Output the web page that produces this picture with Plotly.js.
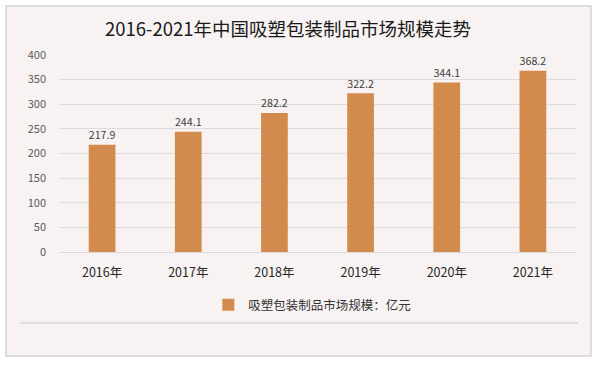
<!DOCTYPE html>
<html><head><meta charset="utf-8">
<script src="https://cdn.plot.ly/plotly-3.0.1.min.js"></script>
<style>html,body{margin:0;padding:0;background:#fff}#chart{width:600px;height:366px}</style>
</head><body><div id="chart"></div>
<script>
var categories = ['2016年','2017年','2018年','2019年','2020年','2021年'];
var values = [217.9, 244.1, 282.2, 322.2, 344.1, 368.2];
var seriesName = '吸塑包装制品市场规模：亿元';
var tickVals = [0,50,100,150,200,250,300,350,400];

var font = '"Noto Sans CJK SC", "Microsoft YaHei", sans-serif';
var trace = {
  type: 'bar', x: categories, y: values, name: seriesName,
  marker: {color: '#d38b4d'}, width: 0.31,
  text: values.map(function(v){return v.toFixed(1);}),
  textposition: 'outside', cliponaxis: false,
  textfont: {size: 11.5, color: '#404040', family: font},
  hoverinfo: 'x+y'
};
var layout = {
  width: 600, height: 366,
  paper_bgcolor: '#ffffff', plot_bgcolor: 'rgba(0,0,0,0)',
  margin: {l: 59, r: 24, t: 55, b: 114},
  font: {family: font},
  title: {text: '2016-2021年中国吸塑包装制品市场规模走势', x: 0.48, xanchor: 'center', y: 0.918, yanchor: 'middle',
          font: {size: 18.5, color: '#1a1a1a', family: font}},
  xaxis: {type: 'category', tickfont: {size: 12.5, color: '#262626', family: font}, showline: true, linecolor: '#d9d9d9', linewidth: 1, ticks: '', ticklen: 0, ticklabelstandoff: 9},
  yaxis: {range: [0, 400], tickvals: tickVals, showgrid: true, gridcolor: '#dcdcdc', gridwidth: 1, zeroline: false,
          tickfont: {size: 11, color: '#595959', family: font}, ticks: '', ticklabelstandoff: 12},
  showlegend: true,
  legend: {orientation: 'h', x: 0.49, xanchor: 'center', y: -0.27, yanchor: 'middle', font: {size: 12.5, color: '#333', family: font}, itemwidth: 30, bgcolor: 'rgba(0,0,0,0)'},
  shapes: [
    {type: 'rect', xref: 'paper', yref: 'paper', layer: 'below', x0: -53/517, x1: (591-59)/517, y0: 1 + 49/197, y1: -(356-252)/197,
     fillcolor: '#f8f2f2', line: {color: '#d6d2d2', width: 1.5}},
    {type: 'line', xref: 'paper', yref: 'paper', layer: 'below', x0: (20-59)/517, x1: (578-59)/517, y0: -(323-252)/197, y1: -(323-252)/197,
     line: {color: '#e2dedd', width: 2}}
  ]
};
Plotly.newPlot('chart', [trace], layout, {displayModeBar: false, staticPlot: true});
</script></body></html>
